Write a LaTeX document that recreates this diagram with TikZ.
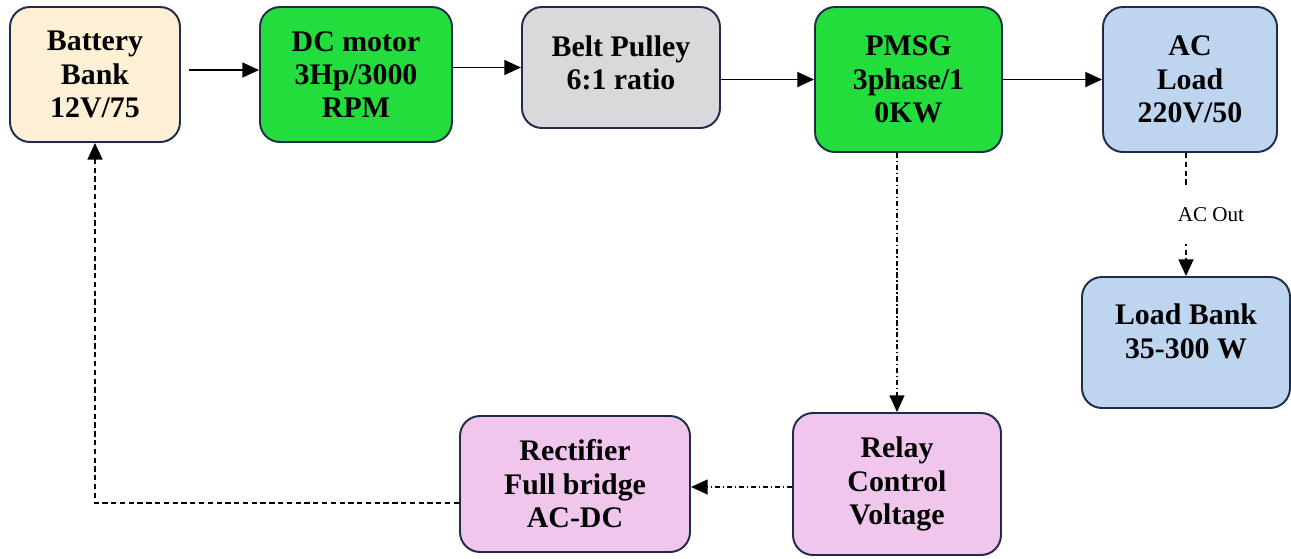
\documentclass[tikz,border=0pt]{standalone}
\usepackage{fontspec}
\setmainfont{Liberation Serif}
\usepackage{xcolor}
\usepackage{tikz}
\usetikzlibrary{positioning,arrows.meta,calc}
\definecolor{battfill}{HTML}{FDF0D5}
\definecolor{motorgreen}{HTML}{22DD3C}
\definecolor{pulleygrey}{HTML}{D9D9DB}
\definecolor{loadblue}{HTML}{BDD5EE}
\definecolor{ctrlpink}{HTML}{F0C6EC}
\definecolor{boxline}{HTML}{1E2B4A}

\begin{document}
\begin{tikzpicture}[
    every node/.style={align=center},
    blk/.style={draw=boxline, line width=1.1pt, rounded corners=0.4cm,
                font=\bfseries\fontsize{17}{19}\selectfont, inner sep=2pt},
    flow/.style={line width=1pt, -{Triangle[length=9.5pt,width=8.5pt]}},
    dashflow/.style={flow, dash pattern=on 3pt off 2pt},
    dotflow/.style={flow, line width=0.8pt, dash pattern=on 3pt off 1.5pt on 0.8pt off 1.5pt},
    lbl/.style={font=\fontsize{12}{14}\selectfont, fill=white, inner xsep=2pt, inner ysep=0.45cm}
  ]
  \useasboundingbox (0,0) rectangle (25.82,-11.16);

  % ---- chaine principale (en haut) ---------------------------------------
  \node[blk, fill=battfill, minimum width=3.4cm, minimum height=2.7cm]
    (batt) at (1.9,-1.49) {Battery\\Bank\\12V/75};
  \node[blk, fill=motorgreen, minimum width=3.84cm, minimum height=2.7cm]
    (motor) at (7.12,-1.49) {DC motor\\3Hp/3000\\RPM};
  \node[blk, fill=pulleygrey, minimum width=3.96cm, minimum height=2.42cm, text depth=0.2cm]
    (pulley) at (12.42,-1.35) {Belt Pulley\\6:1 ratio};
  \node[blk, fill=motorgreen, minimum width=3.74cm, minimum height=2.9cm]
    (pmsg) at (18.17,-1.59) {PMSG\\3phase/1\\0KW};
  \node[blk, fill=loadblue, minimum width=3.48cm, minimum height=2.9cm]
    (acload) at (23.8,-1.59) {AC\\Load\\220V/50};

  % ---- charge et boucle de retour ----------------------------------------
  \node[blk, fill=loadblue, minimum width=4.16cm, minimum height=2.62cm, text depth=0.45cm]
    (loadbank) at (23.72,-6.85) {Load Bank\\35-300 W};
  \node[blk, fill=ctrlpink, minimum width=4.16cm, minimum height=2.84cm]
    (relay) at (17.94,-9.68) {Relay\\Control\\Voltage};
  \node[blk, fill=ctrlpink, minimum width=4.6cm, minimum height=2.72cm]
    (rect) at (11.5,-9.68) {Rectifier\\Full bridge\\AC-DC};

  % ---- connexions ---------------------------------------------------------
  \draw[flow, shorten <=0.16cm] (batt.east |- 0,-1.4) coordinate (bo) -- (bo -| motor.west);
  \draw[flow] (motor.east |- pulley.west) -- (pulley.west);
  \draw[flow] (pulley.east |- pmsg.west) -- (pmsg.west);
  \draw[flow] (pmsg.east) -- (acload.west);
  \draw[dotflow] (relay.north |- pmsg.south) -- (relay.north);
  \draw[dashflow] (loadbank.north |- acload.south) --
    node[lbl, xshift=0.5cm] (acout) {AC Out} (loadbank.north);
  \draw[dotflow] ([yshift=-0.06cm]relay.west) -- ([yshift=-0.06cm]rect.east);
  \draw[dashflow] ([yshift=-0.38cm]rect.west) -| (batt.south);

\end{tikzpicture}
\end{document}
